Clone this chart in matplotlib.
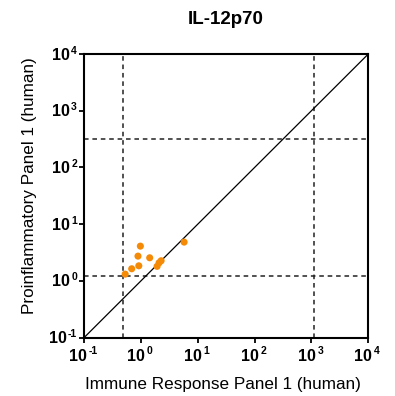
import math
import matplotlib
matplotlib.use('Agg')
import matplotlib.pyplot as plt
from matplotlib.ticker import FixedLocator, NullFormatter, NullLocator

plt.rcParams['font.family'] = ['Liberation Sans', 'DejaVu Sans']

# IL-12p70 concentrations from the two panels
immune = [0.53, 0.69, 0.92, 0.89, 0.98, 1.43, 1.93, 2.09, 2.27, 5.76]
proinflam = [1.32, 1.64, 1.85, 2.74, 4.11, 2.56, 1.81, 2.09, 2.27, 4.84]

# detection limits for each panel
x_limits = [0.48, 1100]
y_limits = [1.24, 315]

decades = [0.1, 1, 10, 100, 1000, 10000]

W, H = 395, 396
fig = plt.figure(figsize=(W / 100, H / 100), dpi=100)
ax = fig.add_axes([84 / W, 1 - 337.7 / H, 284.3 / W, 283.7 / H])

ax.plot([0.1, 10000], [0.1, 10000], color='black', lw=0.9, zorder=2)
for xv in x_limits:
    ax.axvline(xv, color='#222222', ls=(0, (3, 2.5)), lw=1.1, zorder=1)
for yv in y_limits:
    ax.axhline(yv, color='#222222', ls=(0, (3, 2.5)), lw=1.1, zorder=1)

ax.scatter(immune, proinflam, s=26, color='#F58A07', edgecolors='none', zorder=3)

ax.set_xscale('log')
ax.set_yscale('log')
ax.set_xlim(0.1, 10000)
ax.set_ylim(0.1, 10000)

for axis in (ax.xaxis, ax.yaxis):
    axis.set_major_locator(FixedLocator(decades))
    axis.set_minor_locator(NullLocator())
    axis.set_major_formatter(NullFormatter())

ax.tick_params(axis='both', which='major', direction='out', length=3.6, width=1.3)
for s in ax.spines.values():
    s.set_linewidth(1.5)

# tick labels: bold "10" with a raised exponent
fig.canvas.draw()
r = fig.canvas.get_renderer()
big, small = 11.5, 7.5
for v in decades:
    e = '%d' % round(math.log10(v))
    # y axis, exponents right aligned next to the tick
    te = ax.annotate(e, xy=(0, v), xycoords=('axes fraction', 'data'),
                     xytext=(-7, 0.5), textcoords='offset pixels',
                     ha='right', va='baseline', fontsize=small, fontweight='bold')
    we = te.get_window_extent(r).width
    ax.annotate('10', xy=(0, v), xycoords=('axes fraction', 'data'),
                xytext=(-7 - we - 1.5, -5.5), textcoords='offset pixels',
                ha='right', va='baseline', fontsize=big, fontweight='bold')
    # x axis, whole label centred under the tick
    tb = ax.annotate('10', xy=(v, 0), xycoords=('data', 'axes fraction'),
                     xytext=(0, -23.3), textcoords='offset pixels',
                     ha='left', va='baseline', fontsize=big, fontweight='bold')
    wb = tb.get_window_extent(r).width
    te2 = ax.annotate(e, xy=(v, 0), xycoords=('data', 'axes fraction'),
                      xytext=(0, -16), textcoords='offset pixels',
                      ha='left', va='baseline', fontsize=small, fontweight='bold')
    we2 = te2.get_window_extent(r).width
    start = -1 - (wb + 2 + we2) / 2
    tb.xyann = (start, -23.3)
    te2.xyann = (start + wb + 2, -16)

fig.text(222.5 / W, 1 - 389 / H, 'Immune Response Panel 1 (human)',
         ha='center', va='baseline', fontsize=12.3)
fig.text(34 / W, 1 - 186 / H, 'Proinflammatory Panel 1 (human)', rotation=90,
         rotation_mode='anchor', ha='center', va='baseline', fontsize=12.3)
fig.text(226 / W, 1 - 24.3 / H, 'IL-12p70', ha='center', va='baseline',
         fontsize=13.5, fontweight='bold')

fig.savefig('out.png', dpi=100)
